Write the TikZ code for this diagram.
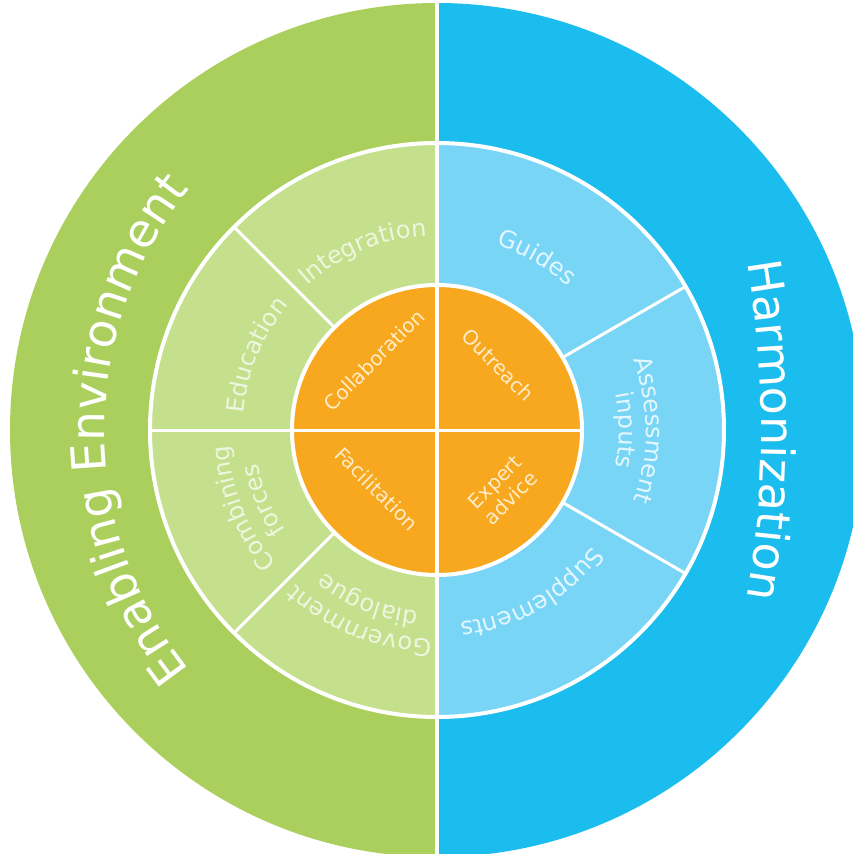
\documentclass[tikz,border=0pt]{standalone}
\usepackage{fontspec}
\setmainfont{DejaVu Sans}
\usetikzlibrary{decorations.text}
\definecolor{ogreen}{RGB}{170,207,92}
\definecolor{mgreen}{RGB}{197,224,140}
\definecolor{oblue}{RGB}{27,188,238}
\definecolor{mblue}{RGB}{120,213,246}
\definecolor{orng}{RGB}{248,168,30}
\definecolor{cream}{RGB}{255,236,200}
\definecolor{gtext}{RGB}{238,246,224}
\definecolor{btext}{RGB}{228,247,255}
% #1 arc centre, #2 centre angle, #3 baseline radius, #4 font size, #5 colour, #6 text
\newcommand\arclab[6]{%
  \path[shift={#1},decorate,decoration={text along path,text align=center,text color=#5,
    text={|\fontsize{#4}{#4}\selectfont|#6}}]
    ({#2+70}:#3) arc[start angle={#2+70},end angle={#2-70},radius=#3];}
\begin{document}
\begin{tikzpicture}[x=1pt,y=1pt,
  sepline/.style={white,line width=3pt},
  ringline/.style={white,line width=4pt},
  innerlab/.style={text=cream,font=\fontsize{20}{23}\selectfont,inner sep=0pt,align=center}]
\useasboundingbox (-437,-424) rectangle (416,430);
% outer ring
\fill[ogreen] (0,0) -- (90:427) arc[start angle=90,end angle=270,radius=427] -- cycle;
\fill[oblue] (0,0) -- (-90:427) arc[start angle=-90,end angle=90,radius=427] -- cycle;
% middle ring
\fill[mgreen] (0,0) -- (90:287) arc[start angle=90,end angle=270,radius=287] -- cycle;
\fill[mblue] (0,0) -- (-90:287) arc[start angle=-90,end angle=90,radius=287] -- cycle;
% inner disc
\fill[orng] (0,0) circle[radius=145];
% white separators
\draw[ringline] (0,0) circle[radius=287];
\draw[ringline] (0,0) circle[radius=145];
\foreach \a in {135,225,30,-30}{\draw[sepline] (\a:145) -- (\a:287);}
\draw[sepline] (180:287) -- (0:145);
\draw[white,line width=4.5pt] (90:430) -- (270:430);
% outer labels (flatter arcs than the rings)
\arclab{(53,0)}{180}{385}{47}{white}{Enabling Environment}
\arclab{(-676,0)}{0}{1000}{46}{white}{Harmonization}
% middle ring labels
\arclab{(0,0)}{112.5}{194}{24}{gtext}{Integration}
\arclab{(0,0)}{157.5}{194}{24}{gtext}{Education}
\arclab{(0,0)}{202}{209}{24}{gtext}{Combining}
\arclab{(0,0)}{202}{182}{24}{gtext}{forces}
\arclab{(0,0)}{248}{209}{24}{gtext}{Government}
\arclab{(0,0)}{248}{182}{24}{gtext}{dialogue}
\arclab{(0,0)}{60}{194}{24}{btext}{Guides}
\arclab{(0,0)}{0}{209}{24}{btext}{Assessment}
\arclab{(0,0)}{0}{182}{24}{btext}{inputs}
\arclab{(0,0)}{-60}{194}{24}{btext}{Supplements}
% inner labels
\node[innerlab,rotate=45] (collab) at (-63,70) {Collaboration};
\node[innerlab,rotate=-45] (outreach) at (61,65) {Outreach};
\node[innerlab,rotate=-45] (facil) at (-60,-59) {Facilitation};
\node[innerlab,rotate=45] (expert) at (66,-60) {Expert\\advice};
\end{tikzpicture}
\end{document}
